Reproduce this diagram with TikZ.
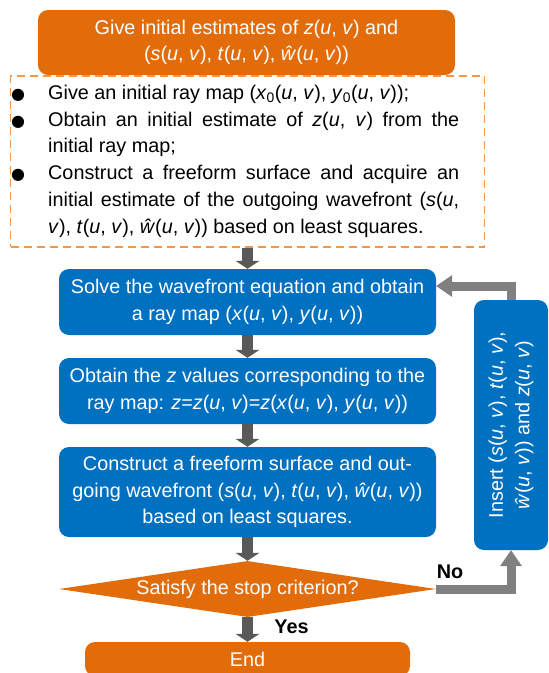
\documentclass[tikz,border=0pt]{standalone}
\usepackage{fontspec}
\setmainfont{Liberation Sans}
\newfontfamily\bltfont{DejaVu Sans}
\usetikzlibrary{arrows.meta,shapes.geometric}

\definecolor{flowOrange}{HTML}{E36C0A}
\definecolor{flowBlue}{HTML}{0070C0}
\definecolor{dashOrange}{HTML}{F79646}
\definecolor{arrowDark}{HTML}{595959}
\definecolor{arrowGray}{HTML}{808080}

\newcommand{\uv}{(\textit{u}, \textit{v})}
\newcommand{\blt}{\noindent\llap{{\bltfont\fontsize{16}{16}\selectfont ●}\hspace{23pt}}}

\tikzset{
	every node/.style={font=\fontsize{19.8}{26.7}\selectfont},
	orangebox/.style={fill=flowOrange, text=white, rounded corners=10pt, align=center, inner sep=0pt},
	bluebox/.style={fill=flowBlue, text=white, rounded corners=10pt, align=center, inner sep=0pt},
	downarrow/.style={draw=arrowDark, line width=11pt, -{Triangle[width=24pt,length=8pt,line width=0pt]}},
	looparrow/.style={draw=arrowGray, line width=9pt, -{Triangle[width=22pt,length=16pt,line width=0pt]}},
}

\begin{document}
\begin{tikzpicture}[x=1pt,y=1pt,yscale=-1]
	\useasboundingbox (0,0) rectangle (549,673);
	
	%Rounded Rect: start
	\node (init) [orangebox, minimum width=417pt, minimum height=65pt] at (246.5,42.5) {Give initial estimates of \textit{z}\uv{} and\\(\textit{s}\uv, \textit{t}\uv, \textit{ŵ}\uv)};
	%Dashed Rect
	\node (prep) [draw=dashOrange, line width=1.5pt, dash pattern=on 8pt off 5pt, minimum width=474pt, minimum height=171pt] at (247.5,161.5) {};
	% Text Node
	\node (preptxt) [anchor=north west, text width=411pt, align=justify, inner sep=0pt] at (48,85) {%
		\hyphenpenalty=10000
		\blt Give an initial ray map (\textit{x}\textsubscript{0}\uv, \textit{y}\textsubscript{0}\uv);\par
		\blt Obtain an initial estimate of \textit{z}\uv{} from the\linebreak initial ray map;\par
		\blt Construct a freeform surface and acquire an\linebreak initial estimate of the outgoing wavefront (\textit{s}(\textit{u},\linebreak \textit{v}), \textit{t}\uv, \textit{ŵ}\uv) based on least squares.\par};
	
	%Rounded Rect: loop steps
	\node (solve) [bluebox, minimum width=377pt, minimum height=66pt] at (247.5,302) {Solve the wavefront equation and obtain\\a ray map (\textit{x}\uv, \textit{y}\uv)};
	\node (zval) [bluebox, minimum width=377pt, minimum height=66pt] at (247.5,391) {Obtain the \textit{z} values corresponding to the\\ray map: \textit{z}=\textit{z}\uv=\textit{z}(\textit{x}\uv, \textit{y}\uv)};
	\node (surf) [bluebox, minimum width=377pt, minimum height=90pt] at (247.5,492) {Construct a freeform surface and out-\\going wavefront (\textit{s}\uv, \textit{t}\uv, \textit{ŵ}\uv)\\based on least squares.};
	%Diamond
	\node (stop) [diamond, aspect=7, fill=flowOrange, text=white, inner sep=0pt, minimum width=377pt, minimum height=56pt] at (247.5,589) {\makebox[0pt]{Satisfy the stop criterion?}};
	%Rounded Rect: end
	\node (finish) [orangebox, minimum width=325pt, minimum height=34pt] at (247.5,659) {End};
	%Rounded Rect: insert (rotated, west is its bottom)
	\node (insert) [bluebox, rotate=90, minimum width=250pt, minimum height=74pt] at (511,425) {Insert (\textit{s}\uv, \textit{t}\uv,\\\textit{ŵ}\uv) and \textit{z}\uv};
	
	%Arrows
	\draw [downarrow] (prep.south) -- (solve.north);
	\draw [downarrow] (solve.south) -- (zval.north);
	\draw [downarrow] (zval.south) -- (surf.north);
	\draw [downarrow] (surf.south) -- (stop.north);
	\draw [downarrow] (stop.south) -- (finish.north);
	\draw [looparrow] (stop.east) -| (insert.west);
	\draw [looparrow] (insert.east) |- ([yshift=-16pt]solve.east);
	
	% Text Node
	\node (yes) [font=\fontsize{19.8}{26.7}\selectfont\bfseries] at (291.5,627) {Yes};
	\node (no) [font=\fontsize{19.8}{26.7}\selectfont\bfseries] at (450,572) {No};
\end{tikzpicture}
\end{document}
